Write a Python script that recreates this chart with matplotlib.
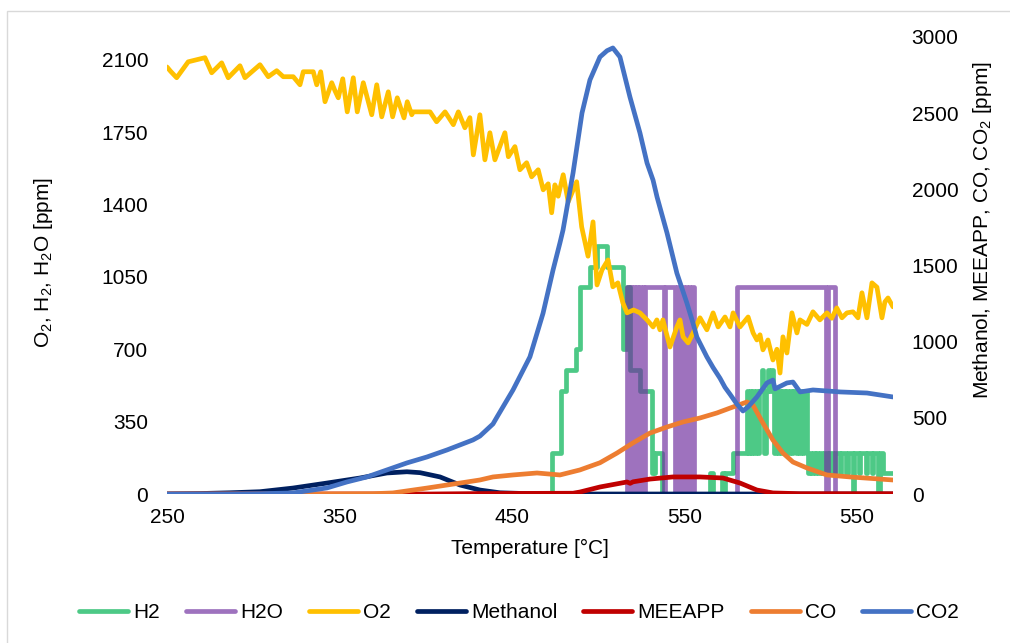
import matplotlib
matplotlib.use('Agg')
import matplotlib.pyplot as plt
from matplotlib.patches import Rectangle

plt.rcParams['font.family'] = ['Liberation Sans', 'DejaVu Sans']
FS = 15

# ---------------- data (x = position on the temperature axis) ----------------
x_ticks = [250, 350, 450, 550, 650]
x_tick_labels = ['250', '350', '450', '550', '550']
left_ticks = [0, 350, 700, 1050, 1400, 1750, 2100]
right_ticks = [0, 500, 1000, 1500, 2000, 2500, 3000]

o2_pos = [250.0, 252.0, 255.6, 262.3, 272.0, 275.9, 281.7, 285.5, 292.3, 295.2,
          303.9, 308.7, 313.6, 317.4, 323.2, 327.1, 329.0, 334.8, 336.8, 339.1,
          341.6, 345.5, 347.4, 349.3, 351.9, 354.5, 358.0, 360.3, 363.8, 368.7,
          371.6, 374.5, 378.3, 380.8, 383.5, 387.4, 389.3, 391.9, 392.8, 402.5,
          406.3, 411.2, 416.0, 418.9, 422.7, 425.6, 427.6, 431.4, 434.3, 437.2,
          440.1, 445.9, 447.9, 451.7, 454.6, 458.5, 461.4, 465.2, 468.1, 471.0,
          473.0, 474.9, 476.8, 479.7, 482.6, 487.5, 490.4, 494.1, 497.0, 499.3,
          502.2, 505.7, 508.5, 511.4, 514.3, 516.7, 520.5, 524.2, 528.3, 531.8,
          534.0, 535.8, 537.5, 541.6, 545.6, 547.4, 549.2, 552.1, 555.0, 559.0,
          563.0, 566.6, 569.5, 573.5, 576.4, 578.2, 582.2, 586.9, 589.8, 592.0,
          593.8, 595.5, 598.4, 601.3, 603.6, 605.4, 607.1, 609.4, 612.3, 615.2,
          617.0, 621.0, 624.5, 628.5, 632.6, 635.4, 638.3, 641.3, 644.2, 647.7,
          650.6, 652.9, 655.8, 658.7, 661.6, 664.5, 666.2, 668.0, 670.9]
o2_val = [2065, 2045, 2013, 2090, 2110, 2037, 2085, 2013, 2071, 2013,
          2076, 2018, 2047, 2018, 2018, 1979, 2042, 2042, 1979, 2042,
          1897, 1989, 1950, 1916, 2008, 1848, 2013, 1848, 1989, 1834,
          1979, 1824, 1945, 1824, 1916, 1819, 1897, 1834, 1848, 1848,
          1800, 1848, 1786, 1848, 1771, 1820, 1640, 1834, 1616, 1747,
          1616, 1747, 1631, 1680, 1568, 1602, 1534, 1568, 1471, 1500,
          1360, 1495, 1440, 1544, 1413, 1510, 1292, 1150, 1316, 1011,
          1084, 1132, 1002, 1021, 924, 876, 890, 876, 842, 808,
          842, 794, 842, 711, 808, 842, 760, 731, 779, 852,
          794, 876, 808, 856, 808, 876, 808, 856, 779, 745,
          770, 697, 745, 648, 700, 585, 760, 682, 876, 779,
          842, 820, 881, 842, 876, 850, 900, 852, 876, 881,
          852, 973, 852, 1021, 1000, 852, 929, 948, 905]

h2_pos = [250.0, 473.2, 478.4, 481.3, 487.1, 489.4, 495.2, 499.3, 505.1, 514.3,
          516.7, 518.5, 524.2, 531.2, 531.6, 532.4, 532.9, 536.9, 564.8, 566.6,
          571.7, 573.0, 573.6, 578.1, 586.2, 587.0, 587.8, 588.6, 589.4, 590.5,
          591.3, 592.6, 593.4, 594.9, 595.6, 596.3, 597.1, 598.4, 599.2, 599.9,
          601.3, 602.0, 602.8, 604.2, 605.0, 606.0, 606.8, 608.0, 608.8, 610.2,
          611.0, 612.3, 613.1, 614.5, 615.3, 616.5, 617.3, 618.6, 619.4, 621.0,
          621.8, 622.6, 623.6, 624.4, 625.6, 626.4, 627.6, 628.4, 630.0, 630.8,
          633.0, 633.8, 636.4, 637.2, 640.0, 640.8, 643.8, 644.6, 647.6, 648.4,
          651.2, 652.0, 655.0, 655.8, 658.6, 659.4, 662.4, 663.2, 665.1, 670.9]
h2_val = [0, 200, 500, 600, 700, 1000, 1100, 1200, 1100, 700,
          1000, 600, 500, 100, 200, 100, 200, 0, 100, 0,
          100, 0, 100, 200, 500, 200, 500, 200, 500, 200,
          500, 200, 500, 600, 500, 200, 500, 600, 500, 600,
          500, 200, 500, 200, 500, 200, 500, 200, 500, 200,
          500, 200, 500, 200, 500, 200, 500, 200, 500, 200,
          100, 200, 100, 200, 100, 200, 100, 200, 100, 200,
          100, 200, 100, 200, 100, 200, 100, 200, 0, 200,
          100, 200, 100, 200, 100, 200, 0, 200, 100, 100]

h2o_pos = [250.0, 516.7, 517.6, 518.5, 519.4, 520.3, 521.2, 522.1, 523.0, 523.9,
           524.8, 525.7, 526.6, 527.1, 538.0, 538.9, 544.5, 545.4, 546.3, 547.2,
           548.1, 549.0, 549.9, 550.8, 551.7, 552.6, 553.5, 554.4, 555.4, 580.4,
           632.0, 633.4, 637.0, 670.9]
h2o_val = [0, 1000, 0, 1000, 0, 1000, 0, 1000, 0, 1000,
           0, 1000, 0, 1000, 0, 1000, 0, 1000, 0, 1000,
           0, 1000, 0, 1000, 0, 1000, 0, 1000, 0, 1000,
           0, 1000, 0, 0]

methanol_pos = [250.0, 269.1, 286.5, 303.9, 323.0, 342.8, 361.9, 377.5, 389.1,
                396.7, 408.3, 419.9, 431.4, 443.0, 460.4, 477.8, 670.9]
methanol_val = [0, 3, 8, 15, 39, 72, 105, 138, 146,
                140, 112, 59, 26, 8, 2, 0, 0]

meeapp_pos = [250.0, 402.5, 431.4, 485.4, 489.4, 501.0, 516.7, 518.5, 520.2,
              530.0, 543.3, 559.0, 572.3, 582.2, 592.0, 601.3, 617.0, 670.9]
meeapp_val = [0, 0, 3, 5, 13, 46, 79, 70, 80,
              98, 112, 112, 105, 72, 26, 7, 2, 2]

co_pos = [250.0, 327.1, 369.4, 381.0, 400.7, 419.9, 431.4, 439.0, 450.6, 464.5,
          477.8, 489.4, 501.0, 510.9, 520.1, 530.0, 539.9, 549.2, 559.0, 568.8,
          578.1, 586.2, 589.7, 595.5, 601.3, 607.1, 612.9, 621.0, 632.6, 645.9,
          670.9]
co_val = [0, 0, 2, 7, 39, 72, 92, 112, 125, 138,
          125, 158, 205, 269, 335, 400, 440, 473, 499, 532,
          571, 604, 584, 466, 354, 269, 210, 171, 125, 112,
          92]

co2_pos = [250.0, 285.0, 303.9, 323.0, 342.8, 354.3, 365.9, 377.5, 389.1, 400.7,
           412.3, 427.4, 431.4, 439.0, 441.3, 450.6, 460.4, 468.0, 473.8, 477.8,
           479.6, 485.4, 490.6, 495.2, 501.0, 505.1, 508.5, 512.6, 518.4, 524.2,
           528.3, 531.8, 534.1, 539.9, 545.6, 551.4, 555.0, 557.2, 563.0, 566.6,
           570.6, 573.5, 576.4, 580.4, 583.9, 586.8, 592.0, 597.8, 601.3, 602.5,
           609.4, 612.9, 617.0, 624.5, 640.2, 655.8, 670.9]
co2_val = [0, 0, 2, 7, 40, 79, 112, 158, 204, 243,
           289, 355, 380, 460, 505, 683, 900, 1186, 1470, 1648,
           1733, 2107, 2501, 2718, 2869, 2910, 2928, 2869, 2606, 2370,
           2173, 2060, 1950, 1713, 1450, 1254, 1120, 1030, 900, 830,
           760, 700, 655, 590, 545, 571, 637, 729, 748, 690,
           729, 735, 670, 683, 670, 663, 637]

# ---------------- figure ----------------
fig = plt.figure(figsize=(10.1, 6.43), dpi=100)
fig.patches.append(Rectangle((7 / 1010, -0.1), 1.2, 0.1 + (643 - 11) / 643,
                             transform=fig.transFigure, fill=False,
                             edgecolor='#d9d9d9', lw=1.0))

ax = fig.add_axes([167 / 1010, 149 / 643, 726 / 1010, 457 / 643])
ax2 = ax.twinx()

LW = 3.4
kw = dict(lw=LW, solid_joinstyle='round', solid_capstyle='round')

l_h2, = ax.step(h2_pos, h2_val, where='post', color='#4dc986', label='H2', **kw)
l_h2o, = ax.step(h2o_pos, h2o_val, where='post', color='#7030a0', alpha=0.68,
                 label='H2O', **kw)
l_o2, = ax.plot(o2_pos, o2_val, color='#ffc000', label='O2', **kw)
l_me, = ax2.plot(methanol_pos, methanol_val, color='#002060', label='Methanol', **kw)
l_mee, = ax2.plot(meeapp_pos, meeapp_val, color='#c00000', label='MEEAPP', **kw)
l_co, = ax2.plot(co_pos, co_val, color='#ed7d31', label='CO', **kw)
l_co2, = ax2.plot(co2_pos, co2_val, color='#4472c4', label='CO2', **kw)

ax.set_xlim(250, 670.9)
ax.set_ylim(0, 2210)
ax2.set_ylim(0, 3000)
ax.set_xticks(x_ticks)
ax.set_xticklabels(x_tick_labels)
ax.set_yticks(left_ticks)
ax2.set_yticks(right_ticks)

for a in (ax, ax2):
    for s in a.spines.values():
        s.set_visible(False)
ax.tick_params(axis='both', length=0, labelsize=FS, colors='black')
ax.tick_params(axis='y', pad=13.5)
ax.tick_params(axis='x', pad=10)
ax2.tick_params(axis='y', length=0, labelsize=FS, pad=13.5)

fig.text(44 / 1010, 1 - 262 / 643, r'O$_\mathregular{2}$, H$_\mathregular{2}$, H$_\mathregular{2}$O [ppm]',
         rotation=90, ha='center', va='center', fontsize=FS)
fig.text(983 / 1010, 1 - 230 / 643, r'Methanol, MEEAPP, CO, CO$_\mathregular{2}$ [ppm]',
         rotation=90, ha='center', va='center', fontsize=FS)
fig.text(530 / 1010, 1 - 548 / 643, 'Temperature [°C]', ha='center', va='center',
         fontsize=FS)

handles = [l_h2, l_h2o, l_o2, l_me, l_mee, l_co, l_co2]
leg = fig.legend(handles, [h.get_label() for h in handles], loc='center',
                 bbox_to_anchor=(519 / 1010, 1 - 613 / 643), ncol=7, frameon=False,
                 fontsize=FS, handlelength=2.35, handletextpad=0.25, columnspacing=1.25)

fig.savefig('out.png', dpi=100)
